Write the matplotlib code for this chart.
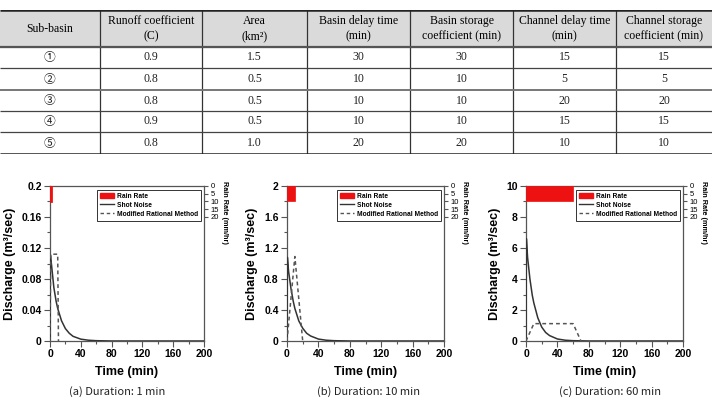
import matplotlib
matplotlib.use('Agg')
import matplotlib.pyplot as plt
from matplotlib.patches import Patch
from matplotlib.lines import Line2D
from matplotlib.ticker import AutoMinorLocator, FixedLocator

# ---- table data ----
table_header = ['Sub-basin', 'Runoff coefficient\n(C)', 'Area\n(km²)',
                'Basin delay time\n(min)', 'Basin storage\ncoefficient (min)',
                'Channel delay time\n(min)', 'Channel storage\ncoefficient (min)']
sub_basin = ['①', '②', '③', '④', '⑤']
runoff_c = ['0.9', '0.8', '0.8', '0.9', '0.8']
area = ['1.5', '0.5', '0.5', '0.5', '1.0']
basin_delay = ['30', '10', '10', '10', '20']
basin_storage = ['30', '10', '10', '10', '20']
channel_delay = ['15', '5', '20', '15', '10']
channel_storage = ['15', '5', '20', '15', '10']

# ---- hydrograph data ----
durations = [1, 10, 60]          # rainfall duration (min)
rain_rate = [10, 10, 10]         # mm/hr
captions = ['(a) Duration: 1 min', '(b) Duration: 10 min', '(c) Duration: 60 min']
y_max = [0.2, 2, 10]
y_step = [0.04, 0.4, 2]

shot_t = [0, 0.5, 2, 5, 8, 10, 15, 20, 25, 30, 40, 50, 60, 80, 200]
shot_q_a = [0, 0.110, 0.098, 0.069, 0.051, 0.042, 0.026, 0.016, 0.010, 0.006,
            0.0024, 0.001, 0.0004, 0, 0]
shot_q_b = [0, 1.08, 0.90, 0.68, 0.51, 0.42, 0.26, 0.165, 0.10, 0.065,
            0.025, 0.010, 0.004, 0, 0]
shot_q_c = [0, 6.6, 5.4, 4.0, 2.95, 2.45, 1.5, 0.9, 0.55, 0.35,
            0.13, 0.05, 0.02, 0, 0]
shot_q = [shot_q_a, shot_q_b, shot_q_c]

mrm_t_a = [0, 1, 10, 11]
mrm_q_a = [0, 0.112, 0.112, 0]
mrm_t_b = [0, 10, 20]
mrm_q_b = [0, 1.09, 0]
mrm_t_c = [0, 10, 60, 70]
mrm_q_c = [0, 1.12, 1.12, 0]
mrm_t = [mrm_t_a, mrm_t_b, mrm_t_c]
mrm_q = [mrm_q_a, mrm_q_b, mrm_q_c]

W, H = 712, 398
fig = plt.figure(figsize=(W / 100, H / 100), dpi=100)

# ---------------- table ----------------
col_edges = [0, 100, 202, 307, 410, 513, 616, 712]
row_edges = [10, 47, 68, 90, 111, 132, 154]
tax = fig.add_axes([0, 1 - 154 / H, 1, (154 - 10) / H])
tax.set_xlim(0, W)
tax.set_ylim(154, 10)
tax.axis('off')

tax.axhspan(10, 47, color='#dadada', zorder=0)
serif = ['Liberation Serif', 'DejaVu Serif']
for i, h in enumerate(table_header):
    xc = (col_edges[i] + col_edges[i + 1]) / 2
    tax.text(xc, (10 + 47) / 2, h, ha='center', va='center', fontsize=8.5,
             family=serif, linespacing=1.35)

columns = [sub_basin, runoff_c, area, basin_delay, basin_storage,
           channel_delay, channel_storage]
for i, col in enumerate(columns):
    xc = (col_edges[i] + col_edges[i + 1]) / 2
    for r, val in enumerate(col):
        yc = (row_edges[r + 1] + row_edges[r + 2]) / 2
        fam = ['Noto Sans CJK KR'] if i == 0 else serif
        tax.text(xc, yc, val, ha='center', va='center', fontsize=8.5,
                 family=fam, color='#222222')

for x in col_edges[1:-1]:
    tax.vlines(x, 10, 154, color='#333333', lw=0.9)
tax.hlines(10, 0, W, color='#222222', lw=1.8)
tax.hlines(154, 0, W, color='#222222', lw=1.8)
tax.hlines(47, 0, W, color='#555555', lw=1.6)
for y in [68, 111, 132]:
    tax.hlines(y, 0, W, color='#444444', lw=0.9)
tax.hlines(90, 0, W, color='#777777', lw=1.4)

# ---------------- hydrographs ----------------
axes_px = [(50, 204), (287, 444), (526, 683)]
top_px, bot_px = 186, 341
cap_x = [117, 368, 610]
sans = ['Liberation Sans', 'DejaVu Sans']
spine_c = '#555555'

for k in range(3):
    l, r = axes_px[k]
    ax = fig.add_axes([l / W, 1 - bot_px / H, (r - l) / W, (bot_px - top_px) / H])
    ax.plot(shot_t, shot_q[k], color='#333333', lw=1.1, zorder=3)
    ax.plot(mrm_t[k], mrm_q[k], color='#555555', lw=1.1, ls=(0, (2.5, 2)), zorder=3)
    ax.set_xlim(0, 200)
    ax.set_ylim(0, y_max[k])
    ax.set_xticks(range(0, 201, 40))
    yt = [y_step[k] * i for i in range(6)]
    ax.set_yticks(yt)
    ax.set_yticklabels(['{:g}'.format(round(v, 3)) for v in yt])
    ax.xaxis.set_minor_locator(AutoMinorLocator(2))
    ax.yaxis.set_minor_locator(AutoMinorLocator(2))
    ax.tick_params(which='major', length=4, width=0.8, color=spine_c, labelsize=7.5, pad=2)
    ax.tick_params(which='minor', length=2.5, width=0.8, color=spine_c)
    for lab in ax.get_xticklabels() + ax.get_yticklabels():
        lab.set_fontweight('bold')
        lab.set_family(sans)
    for s in ax.spines.values():
        s.set_color(spine_c)
        s.set_linewidth(0.9)
    ax.set_xlabel('Time (min)', fontsize=9, fontweight='bold', family=sans, labelpad=5)
    ax.set_ylabel('Discharge (m³/sec)', fontsize=9, fontweight='bold', family=sans, labelpad=4)

    ax2 = ax.twinx()
    ax2.bar(0, rain_rate[k], width=durations[k], align='edge', color='#ee1111',
            edgecolor='#ee1111', lw=2 if durations[k] < 5 else 0.5, zorder=2)
    ax2.set_ylim(100, 0)
    ax2.yaxis.set_major_locator(FixedLocator([0, 5, 10, 15, 20]))
    ax2.tick_params(axis='y', length=3, width=0.8, color=spine_c, labelsize=5.5, pad=1.5)
    for lab in ax2.get_yticklabels():
        lab.set_family(sans)
    for s in ax2.spines.values():
        s.set_visible(False)
    ax2.set_ylabel('Rain Rate (mm/hr)', rotation=270, fontsize=5.2, fontweight='bold',
                   family=sans, va='center')
    ax2.yaxis.set_label_coords(1.13, 0.83)

    handles = [Patch(facecolor='#ee1111', edgecolor='#ee1111'),
               Line2D([], [], color='#333333', lw=1.0),
               Line2D([], [], color='#555555', lw=1.0, ls=(0, (2.5, 2)))]
    leg = ax2.legend(handles, ['Rain Rate', 'Shot Noise', 'Modified Rational Method'],
                     loc='upper right', bbox_to_anchor=(0.99, 0.985),
                     prop={'family': sans, 'weight': 'bold', 'size': 4.8},
                     frameon=True, fancybox=False, edgecolor='#333333', framealpha=1,
                     borderpad=0.45, labelspacing=0.3, handlelength=2.1,
                     handleheight=0.9, handletextpad=0.5, borderaxespad=0.2)
    leg.get_frame().set_linewidth(0.7)

    fig.text(cap_x[k] / W, 1 - 392 / H, captions[k], ha='center', va='center',
             fontsize=8, family=['Noto Sans CJK KR', 'DejaVu Sans'], color='#222222')

fig.savefig('out.png', dpi=100)
